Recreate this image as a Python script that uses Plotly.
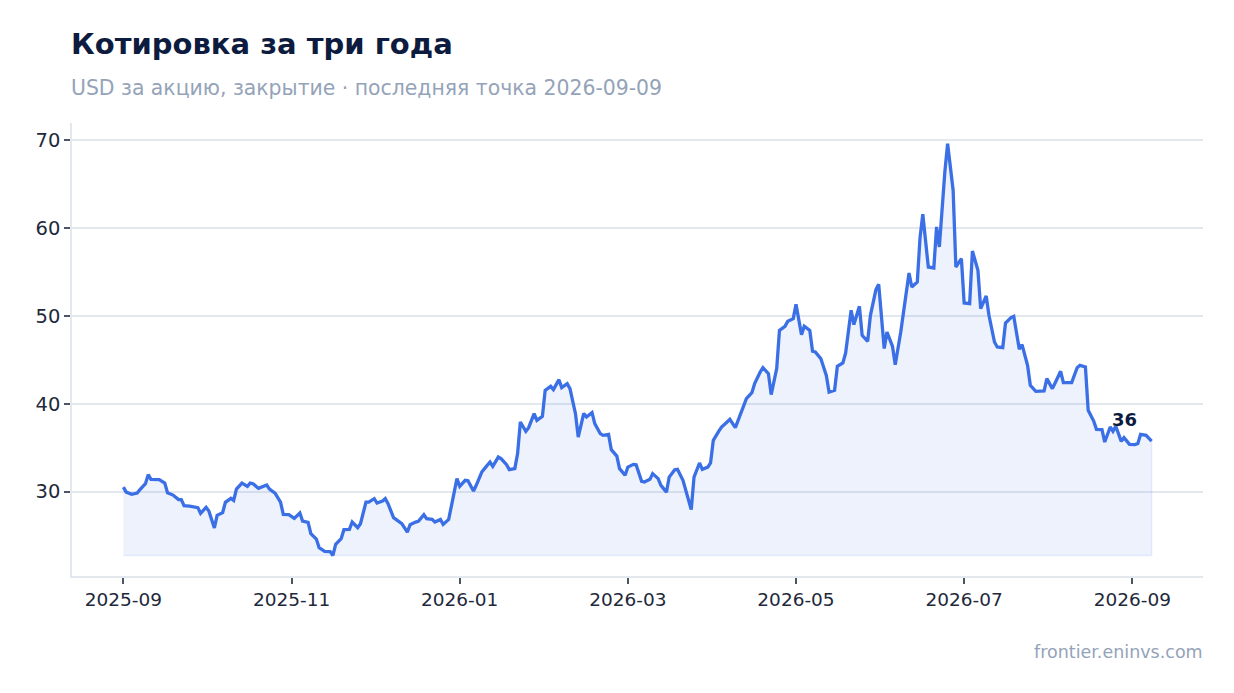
import plotly.graph_objects as go
import pandas as pd

# --- data ---
dates = [
    "2025-09-01", "2025-09-02", "2025-09-04", "2025-09-06", "2025-09-07", "2025-09-09", "2025-09-10",
    "2025-09-11", "2025-09-14", "2025-09-16", "2025-09-17", "2025-09-19", "2025-09-21", "2025-09-22",
    "2025-09-23", "2025-09-25", "2025-09-28", "2025-09-29", "2025-10-01", "2025-10-02", "2025-10-04",
    "2025-10-05", "2025-10-07", "2025-10-08", "2025-10-10", "2025-10-11", "2025-10-12", "2025-10-14",
    "2025-10-16", "2025-10-17", "2025-10-18", "2025-10-20", "2025-10-23", "2025-10-24", "2025-10-26",
    "2025-10-28", "2025-10-29", "2025-10-31", "2025-11-02", "2025-11-04", "2025-11-05", "2025-11-07",
    "2025-11-08", "2025-11-10", "2025-11-11", "2025-11-13", "2025-11-15", "2025-11-16", "2025-11-17",
    "2025-11-19", "2025-11-20", "2025-11-22", "2025-11-23", "2025-11-25", "2025-11-26", "2025-11-28",
    "2025-11-29", "2025-12-01", "2025-12-02", "2025-12-04", "2025-12-05", "2025-12-06", "2025-12-08",
    "2025-12-11", "2025-12-13", "2025-12-14", "2025-12-16", "2025-12-17", "2025-12-19", "2025-12-20",
    "2025-12-22", "2025-12-23", "2025-12-25", "2025-12-26", "2025-12-28", "2025-12-29", "2025-12-31",
    "2026-01-01", "2026-01-03", "2026-01-04", "2026-01-06", "2026-01-07", "2026-01-09", "2026-01-10",
    "2026-01-12", "2026-01-13", "2026-01-15", "2026-01-16", "2026-01-18", "2026-01-19", "2026-01-21",
    "2026-01-22", "2026-01-23", "2026-01-25", "2026-01-26", "2026-01-28", "2026-01-29", "2026-01-31",
    "2026-02-01", "2026-02-03", "2026-02-04", "2026-02-06", "2026-02-07", "2026-02-09", "2026-02-10",
    "2026-02-12", "2026-02-13", "2026-02-15", "2026-02-16", "2026-02-18", "2026-02-19", "2026-02-21",
    "2026-02-22", "2026-02-24", "2026-02-25", "2026-02-27", "2026-02-28", "2026-03-02", "2026-03-03",
    "2026-03-05", "2026-03-06", "2026-03-08", "2026-03-09", "2026-03-11", "2026-03-12", "2026-03-14",
    "2026-03-15", "2026-03-17", "2026-03-18", "2026-03-20", "2026-03-21", "2026-03-23", "2026-03-24",
    "2026-03-26", "2026-03-27", "2026-03-29", "2026-03-30", "2026-04-01", "2026-04-02", "2026-04-03",
    "2026-04-05", "2026-04-06", "2026-04-08", "2026-04-09", "2026-04-11", "2026-04-12", "2026-04-14",
    "2026-04-15", "2026-04-17", "2026-04-18", "2026-04-20", "2026-04-21", "2026-04-23", "2026-04-24",
    "2026-04-26", "2026-04-27", "2026-04-29", "2026-04-30", "2026-05-02", "2026-05-03", "2026-05-05",
    "2026-05-06", "2026-05-08", "2026-05-09", "2026-05-10", "2026-05-12", "2026-05-14", "2026-05-15",
    "2026-05-17", "2026-05-18", "2026-05-20", "2026-05-21", "2026-05-23", "2026-05-24", "2026-05-26",
    "2026-05-27", "2026-05-29", "2026-05-30", "2026-06-01", "2026-06-02", "2026-06-04", "2026-06-05",
    "2026-06-07", "2026-06-08", "2026-06-10", "2026-06-11", "2026-06-13", "2026-06-14", "2026-06-16",
    "2026-06-17", "2026-06-18", "2026-06-20", "2026-06-22", "2026-06-23", "2026-06-24", "2026-06-26",
    "2026-06-27", "2026-06-29", "2026-06-30", "2026-07-02", "2026-07-03", "2026-07-05", "2026-07-06",
    "2026-07-08", "2026-07-09", "2026-07-11", "2026-07-12", "2026-07-14", "2026-07-15", "2026-07-17",
    "2026-07-18", "2026-07-20", "2026-07-21", "2026-07-23", "2026-07-24", "2026-07-26", "2026-07-27",
    "2026-07-29", "2026-07-30", "2026-08-01", "2026-08-02", "2026-08-04", "2026-08-05", "2026-08-07",
    "2026-08-08", "2026-08-10", "2026-08-11", "2026-08-13", "2026-08-14", "2026-08-16", "2026-08-17",
    "2026-08-19", "2026-08-20", "2026-08-22", "2026-08-23", "2026-08-25", "2026-08-26", "2026-08-27",
    "2026-08-29", "2026-08-30", "2026-09-01", "2026-09-03", "2026-09-04", "2026-09-05", "2026-09-07",
    "2026-09-09",
]

prices = [
    30.51, 29.94, 29.68, 29.83, 30.22, 30.90, 31.93,
    31.39, 31.36, 30.97, 29.87, 29.60, 29.08, 29.08,
    28.39, 28.35, 28.17, 27.52, 28.20, 27.78, 25.85,
    27.29, 27.60, 28.77, 29.23, 29.00, 30.28, 30.97,
    30.59, 30.97, 30.90, 30.36, 30.74, 30.28, 29.83,
    28.80, 27.40, 27.37, 26.95, 27.55, 26.64, 26.49,
    25.21, 24.59, 23.61, 23.19, 23.16, 22.73, 23.99,
    24.64, 25.66, 25.70, 26.53, 25.89, 26.34, 28.80,
    28.80, 29.19, 28.69, 28.92, 29.19, 28.62, 27.03,
    26.34, 25.39, 26.23, 26.53, 26.61, 27.37, 26.91,
    26.83, 26.53, 26.83, 26.26, 26.83, 28.23, 31.47,
    30.59, 31.28, 31.24, 30.06, 30.71, 32.22, 32.61,
    33.36, 32.87, 33.93, 33.75, 33.06, 32.49, 32.61,
    34.32, 37.92, 36.86, 37.28, 38.87, 38.11, 38.56,
    41.53, 41.98, 41.61, 42.74, 41.83, 42.29, 41.72,
    38.87, 36.21, 38.90, 38.49, 38.99, 37.73, 36.59,
    36.40, 36.51, 34.77, 34.04, 32.61, 31.85, 32.79,
    33.10, 33.06, 31.16, 31.08, 31.39, 32.04, 31.47,
    30.71, 29.94, 31.65, 32.49, 32.53, 31.28, 30.14,
    27.94, 31.65, 33.25, 32.53, 32.79, 33.25, 35.83,
    36.89, 37.35, 37.92, 38.22, 37.28, 38.11, 39.90,
    40.58, 41.26, 42.29, 43.61, 44.11, 43.43, 41.04,
    44.00, 48.36, 48.82, 49.38, 49.69, 51.32, 47.87,
    48.82, 48.36, 45.97, 45.89, 45.14, 43.23, 41.33,
    41.53, 44.26, 44.64, 45.77, 50.64, 49.01, 51.09,
    47.79, 47.11, 50.07, 53.00, 53.60, 46.28, 48.17,
    46.54, 44.45, 48.17, 50.33, 54.89, 53.29, 53.86,
    58.92, 61.57, 55.57, 55.46, 60.13, 57.85, 66.39,
    69.62, 64.31, 55.57, 56.53, 51.47, 51.40, 57.39,
    55.19, 50.83, 52.27, 50.07, 47.03, 46.46, 46.39,
    49.19, 49.81, 49.95, 46.20, 46.73, 44.37, 42.10,
    41.41, 41.45, 41.45, 42.86, 41.72, 42.36, 43.69,
    42.40, 42.40, 42.40, 44.11, 44.37, 44.18, 39.25,
    38.03, 37.08, 37.05, 35.64, 37.35, 36.86, 37.43,
    35.72, 36.14, 35.38, 35.34, 35.46, 36.51, 36.40,
    35.75,
]

assert len(dates) == len(prices), (len(dates), len(prices))

tick_start = "2025-09-01"
tick_step_days = 61
tick_format = "%Y-%m"
y_ticks = [30, 40, 50, 60, 70]

title_text = "Котировка за три года"
subtitle_text = "USD за акцию, закрытие · последняя точка 2026-09-09"
source_text = "frontier.eninvs.com"

# --- styling ---
LINE = "#3a6fe6"
FILL = "rgba(58,111,230,0.09)"
FILL_EDGE = "rgba(58,111,230,0.10)"
GRID = "#e3e8ef"
MUTED = "#94a3b8"
DARK = "#0d1b3e"
TICKTXT = "#1e293b"
FONT = "DejaVu Sans"

x = pd.to_datetime(pd.Series(dates))
base = min(prices)

# axis ranges with 5% padding around the data
x0, x1 = x.min(), x.max()
xpad = (x1 - x0) * 0.05
ymin, ymax = min(prices), max(prices)
ypad = (ymax - ymin) * 0.05

fig = go.Figure()

# shaded area between the series and its minimum
fig.add_trace(go.Scatter(
    x=list(x) + list(x[::-1]),
    y=prices + [base] * len(prices),
    fill="toself",
    fillcolor=FILL,
    line=dict(color=FILL_EDGE, width=1.5),
    mode="lines",
    hoverinfo="skip",
    showlegend=False,
))

fig.add_trace(go.Scatter(
    x=x,
    y=prices,
    mode="lines",
    line=dict(color=LINE, width=3.3),
    showlegend=False,
))

fig.add_annotation(
    x=x.iloc[-1], y=prices[-1],
    text="<b>%d</b>" % round(prices[-1]),
    showarrow=False,
    xshift=-27, yshift=22,
    font=dict(family=FONT, size=18, color=DARK),
)

fig.add_annotation(
    xref="paper", yref="paper", x=0, y=1.174,
    xanchor="left", yanchor="middle", xshift=-3,
    text="<b>%s</b>" % title_text, showarrow=False,
    font=dict(family=FONT, size=29, color=DARK),
)
fig.add_annotation(
    xref="paper", yref="paper", x=0, y=1.077,
    xanchor="left", yanchor="middle", xshift=-3,
    text=subtitle_text, showarrow=False,
    font=dict(family=FONT, size=20.4, color=MUTED),
)
fig.add_annotation(
    xref="paper", yref="paper", x=1, y=-0.168,
    xanchor="right", yanchor="middle", xshift=2,
    text=source_text, showarrow=False,
    font=dict(family=FONT, size=17.5, color=MUTED),
)

fig.update_layout(
    width=1234, height=693,
    margin=dict(l=72, r=31, t=123, b=117),
    paper_bgcolor="white",
    plot_bgcolor="white",
    font=dict(family=FONT, size=18, color=TICKTXT),
    showlegend=False,
    hovermode="x",
)

fig.update_xaxes(
    type="date",
    range=[x0 - xpad, x1 + xpad],
    tickmode="linear",
    tick0=tick_start,
    dtick=tick_step_days * 86400000,
    tickformat=tick_format,
    showgrid=False,
    showline=True, linecolor=GRID, linewidth=1.5,
    ticks="outside", ticklen=6, tickwidth=1.5, tickcolor="#4b5563",
    tickfont=dict(family=FONT, size=18.5, color=TICKTXT),
    zeroline=False,
)
fig.update_yaxes(
    range=[ymin - ypad, ymax + ypad],
    tickvals=y_ticks,
    showgrid=True, gridcolor=GRID, gridwidth=1.5,
    showline=True, linecolor=GRID, linewidth=1.5,
    ticks="outside", ticklen=6, tickwidth=1.5, tickcolor="#4b5563",
    tickfont=dict(family=FONT, size=19.5, color=TICKTXT),
    zeroline=False,
)

fig.write_html(
    "out.html",
    config={"displayModeBar": False},
    post_script="document.body.style.margin='0';document.body.style.padding='0';",
)
